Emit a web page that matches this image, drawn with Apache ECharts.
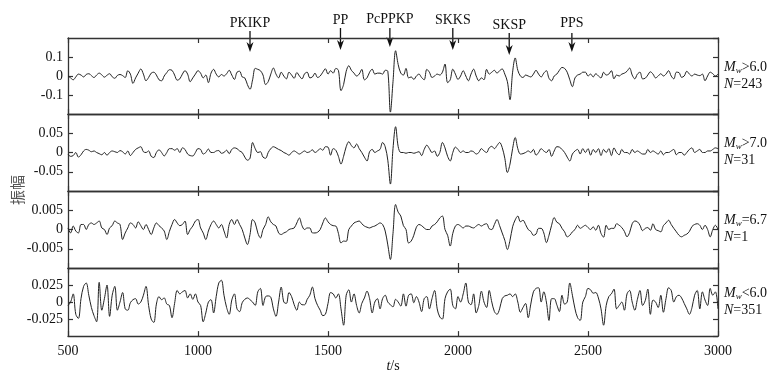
<!DOCTYPE html>
<html><head><meta charset="utf-8">
<script src="https://cdn.jsdelivr.net/npm/echarts@6/dist/echarts.min.js"></script>
<style>html,body{margin:0;padding:0;background:#fff}#c{width:776px;height:374px}</style>
</head><body><div id="c"></div>
<script>
// ---- data ----
const t0 = 500, dt = 10; // sampling of the traces (s)
const phaseNames = ['PKIKP', 'PP', 'PcPPKP', 'SKKS', 'SKSP', 'PPS'];
const phaseTimes = [1200, 1548, 1738, 1980, 2197, 2438];
const panelMag = ['>6.0', '>7.0', '=6.7', '<6.0'];
const panelN = ['243', '31', '1', '351'];
const yLimits = [0.2, 0.1, 0.01, 0.05];
const yIntervals = [0.1, 0.05, 0.005, 0.025];

const trace1 = [
0, -0.01, -0.02, -0.005, 0.01, 0.005, -0.005, 0.008, 0.012, 0.002,
-0.008, 0.005, 0.015, 0.006, -0.006, 0.004, 0.012, -0.004, -0.012, 0.003,
0.008, 0.002, -0.008, 0.028, 0.01, -0.039, -0.01, 0.015, 0.037, 0.01,
-0.025, -0.008, 0.015, 0.02, 0.005, -0.02, -0.025, 0.0, 0.018, 0.033,
0.03, 0.005, -0.022, -0.015, 0.01, 0.028, 0.01, -0.03, -0.01, 0.01,
0.028, 0.015, -0.01, 0.005, -0.035, 0.015, 0.035, 0.01, -0.005, 0.008,
0.0, 0.012, 0.03, 0.005, -0.018, 0.02, 0.025, -0.005, -0.01, -0.045,
-0.07, -0.02, 0.04, 0.035, 0.028, 0.005, -0.045, -0.03, 0.01, 0.042,
0.01, -0.01, 0.02, 0.0, -0.015, 0.02, 0.005, -0.012, 0.018, 0.0,
-0.015, 0.012, 0.02, -0.01, -0.005, 0.015, -0.008, 0.0, 0.02, 0.038,
0.01, 0.028, 0.015, 0.04, 0.03, -0.077, -0.045, 0.025, 0.054, 0.03,
0.015, 0.0, 0.01, 0.035, -0.02, -0.01, 0.02, 0.036, 0.01, 0.015,
0.015, 0.01, 0.03, 0.025, -0.19, -0.03, 0.133, 0.06, 0.015, 0.005,
0.04, -0.01, -0.005, -0.018, 0.0, 0.01, -0.008, -0.02, 0.035, 0.02,
-0.008, 0.0, 0.01, 0.005, 0.02, 0.063, -0.035, -0.02, 0.036, 0.01,
-0.018, 0.0, 0.028, 0.0, -0.025, 0.01, 0.036, 0.0, -0.025, -0.01,
-0.02, 0.035, 0.01, 0.02, 0.03, 0.015, 0.028, 0.037, 0.01, -0.03,
-0.125, 0.02, 0.095, 0.03, 0.0, -0.008, 0.005, 0.0, -0.005, 0.01,
0.03, 0.01, -0.005, 0.015, 0.028, -0.012, -0.025, 0.0, 0.01, 0.03,
0.045, 0.04, 0.02, -0.02, -0.056, -0.01, 0.005, 0.01, 0.02, 0.02,
0.0, 0.01, -0.005, 0.012, 0.0, -0.01, 0.02, 0.005, 0.01, 0.028,
-0.015, 0.005, 0.0, 0.01, 0.015, 0.025, 0.042, 0.005, -0.015, 0.01,
0.02, -0.015, -0.012, 0.005, 0.022, 0.01, -0.01, 0.0, 0.012, 0.0,
0.01, 0.028, 0.0, -0.015, 0.02, 0.018, -0.007, 0.0, 0.025, 0.01,
0.0, 0.01, 0.005, 0.002, 0.01, -0.025, 0.0, 0.02, 0.012, 0.0,
0.01];

const trace2 = [
-0.004, -0.01, -0.008, 0.0, -0.012, -0.006, 0.004, 0.008, 0.006, 0.002,
0.004, 0.0, -0.003, -0.006, 0.0, -0.007, 0.0, 0.004, 0.002, 0.0,
0.005, 0.002, -0.004, 0.004, -0.008, 0.0, 0.008, 0.012, 0.015, 0.002,
0.0, 0.004, -0.01, -0.013, 0.0, 0.007, 0.0, -0.009, 0.0, 0.01,
0.01, 0.006, 0.01, 0.0, 0.012, 0.008, -0.004, -0.008, -0.009, 0.0,
0.01, 0.008, -0.004, 0.0, 0.009, 0.0, 0.0, 0.004, 0.005, -0.002,
0.0, 0.006, -0.003, 0.008, 0.012, 0.01, 0.004, 0.0, -0.012, -0.02,
-0.015, 0.026, 0.01, 0.0, 0.002, -0.012, -0.015, 0.0, 0.01, 0.015,
0.012, 0.008, 0.005, 0.0, -0.003, -0.007, 0.0, 0.004, 0.0, -0.004,
0.0, 0.004, 0.0, 0.002, 0.007, 0.0, 0.004, 0.01, 0.006, 0.015,
0.014, -0.007, 0.01, 0.006, -0.01, -0.03, -0.01, 0.015, 0.028, 0.018,
0.012, 0.022, 0.01, 0.0, -0.012, -0.022, 0.002, 0.008, 0.0, 0.004,
0.008, 0.026, 0.015, -0.02, -0.082, 0.01, 0.067, 0.015, 0.0, 0.0,
-0.002, 0.0, 0.0, -0.002, 0.0, 0.002, -0.008, 0.008, 0.019, 0.01,
0.0, 0.004, -0.01, 0.0, 0.026, 0.012, -0.01, -0.022, 0.0, 0.014,
0.008, 0.0, 0.004, 0.0, 0.0, 0.004, 0.002, -0.004, 0.0, 0.01,
0.004, 0.0, 0.012, 0.016, 0.01, 0.018, 0.026, 0.013, -0.015, -0.052,
-0.03, 0.01, 0.039, 0.01, -0.004, -0.003, 0.0, 0.004, 0.0, 0.008,
-0.007, 0.0, 0.01, 0.004, 0.0, 0.008, -0.01, 0.004, 0.015, 0.014,
0.008, 0.0, -0.012, -0.022, -0.004, 0.004, 0.008, -0.004, 0.01, 0.0,
0.01, -0.007, 0.008, 0.0, 0.01, -0.008, 0.008, 0.0, 0.01, -0.008,
0.012, 0.0, -0.006, 0.008, 0.0, 0.0, -0.004, 0.008, 0.0, 0.004,
0.0, -0.004, -0.004, 0.008, 0.0, 0.004, 0.0, -0.004, 0.004, -0.006,
0.0, 0.0, 0.004, 0.008, -0.006, 0.0, 0.0, -0.007, 0.0, 0.008,
0.012, 0.0, 0.004, 0.008, 0.0, 0.0, 0.004, 0.004, 0.008, 0.012,
0.01];

const trace3 = [
0.0004, -0.0009, 0.0009, -0.0004, -0.0009, 0.0013, 0.0013, 0.0, 0.0013, 0.0017,
0.0013, 0.0017, 0.0022, 0.0004, 0.0, -0.0013, 0.0004, 0.001, 0.0022, 0.0017,
0.0013, -0.0026, -0.0009, 0.0004, 0.0017, 0.0013, 0.0004, 0.002, 0.001, 0.0,
0.0013, 0.0, -0.0013, 0.0004, 0.0017, 0.001, 0.0004, -0.0004, -0.0026, -0.0005,
0.0013, 0.0026, 0.0017, 0.001, 0.0013, 0.0022, -0.0013, 0.0, 0.0009, 0.0022,
0.0026, 0.0004, -0.0009, -0.0026, -0.0004, 0.0013, 0.0022, 0.0013, 0.0004, 0.0013,
-0.0004, -0.0022, 0.0013, 0.0026, 0.0013, 0.0026, 0.0013, 0.0, -0.0022, -0.0039,
-0.0013, 0.0026, 0.0017, -0.0009, -0.0022, 0.0, 0.0013, 0.0033, 0.002, 0.0013,
0.0009, -0.0009, -0.0013, -0.0009, -0.0006, 0.0, 0.0002, 0.0004, 0.0017, 0.003,
0.001, 0.0, 0.0004, 0.0004, -0.0009, -0.0009, -0.0007, 0.0, 0.0017, 0.003,
0.002, 0.0013, 0.001, 0.0009, -0.001, -0.0035, -0.003, -0.0031, 0.0, 0.0009,
0.0017, 0.002, 0.0022, 0.0015, 0.0009, 0.0006, 0.0004, 0.0007, 0.0009, 0.0013,
0.0017, 0.0013, -0.0004, -0.004, -0.0078, -0.001, 0.0065, 0.0045, 0.0035, 0.001,
0.0, -0.0035, -0.003, -0.0015, 0.0006, 0.0013, 0.001, 0.0004, 0.0, 0.0,
0.0009, 0.0013, 0.002, 0.003, 0.0035, 0.0, -0.0015, -0.0043, -0.001, 0.0009,
0.0013, 0.0009, 0.0004, 0.0009, 0.0009, 0.0006, 0.0004, 0.0009, 0.0013, 0.0009,
0.0013, 0.0015, 0.0002, 0.0, 0.0013, 0.0026, 0.001, -0.0009, -0.0028, -0.0052,
-0.0028, 0.0007, 0.0025, 0.0035, 0.002, 0.0024, 0.0013, 0.0, -0.0005, -0.0015,
-0.0012, 0.0003, 0.0003, -0.0009, -0.0034, -0.0015, 0.0011, 0.0031, 0.0019, 0.0015,
0.0003, -0.0006, -0.0019, -0.0015, -0.0006, 0.0, 0.0011, 0.0003, 0.0007, 0.0011,
0.0005, 0.0, 0.0007, -0.0002, 0.0011, -0.001, -0.002, 0.0011, 0.0, 0.0003,
0.0003, 0.0015, 0.0011, 0.0005, -0.0005, -0.0019, -0.0008, 0.0015, 0.0022, 0.002,
0.0011, -0.0003, 0.0003, 0.0005, -0.0002, 0.0015, 0.0, -0.0003, -0.0006, 0.001,
0.0017, 0.0024, 0.0013, 0.0003, -0.0006, -0.0015, -0.0019, -0.0015, -0.0012, -0.0005,
0.0008, 0.0013, 0.0015, 0.0011, 0.0, 0.0011, 0.0, -0.0019, 0.0, 0.0011,
0.0];

const trace4 = [
-0.005, 0.0, 0.012, -0.018, -0.024, 0.005, 0.023, 0.028, 0.01, -0.008,
-0.02, -0.029, 0.029, -0.012, 0.005, 0.025, -0.021, 0.01, 0.023, -0.012,
0.0, 0.014, -0.01, -0.012, -0.001, 0.0035, 0.005, -0.003, 0.0, 0.01,
0.023, -0.005, -0.025, -0.03, -0.003, 0.008, 0.0035, 0.006, -0.003, -0.005,
-0.023, -0.002, 0.017, 0.012, 0.015, 0.017, 0.006, 0.012, 0.004, 0.012,
0.0, -0.005, -0.029, -0.016, 0.0, 0.0035, -0.016, 0.008, 0.028, 0.032,
0.01, -0.008, -0.018, 0.003, 0.012, -0.01, -0.014, -0.001, 0.004, 0.006,
0.0035, 0.0, -0.005, 0.015, 0.02, -0.005, 0.008, 0.009, 0.007, -0.01,
-0.021, 0.0, 0.022, 0.0, -0.002, 0.014, 0.008, -0.004, -0.012, 0.0,
-0.004, -0.004, 0.004, 0.01, 0.022, 0.005, -0.005, -0.012, -0.02, -0.018,
-0.002, 0.014, 0.012, 0.006, 0.012, -0.01, -0.034, 0.01, 0.018, 0.0,
0.012, -0.005, -0.016, -0.002, 0.006, 0.016, 0.005, -0.016, 0.0, 0.005,
-0.01, 0.005, 0.01, 0.0, -0.004, -0.007, 0.004, 0.0, -0.006, 0.012,
-0.006, 0.01, 0.012, -0.001, 0.008, 0.0, -0.014, 0.005, 0.008, -0.01,
0.005, 0.017, -0.01, -0.022, -0.025, 0.005, 0.015, 0.019, -0.005, -0.01,
0.008, 0.0, 0.012, 0.028, 0.0, -0.004, 0.012, -0.016, -0.005, 0.016,
0.0, -0.008, 0.017, 0.0, -0.014, -0.018, -0.01, 0.005, 0.009, 0.01,
0.012, 0.008, 0.012, 0.0, -0.015, -0.008, -0.002, -0.023, -0.003, 0.015,
0.02, 0.021, 0.0, 0.015, 0.0, -0.027, 0.005, 0.005, -0.004, -0.014,
0.01, -0.003, 0.0, 0.028, 0.01, -0.01, -0.023, -0.027, 0.0, 0.008,
0.02, 0.018, 0.013, 0.014, 0.006, -0.01, -0.034, -0.005, 0.008, 0.012,
0.019, -0.01, -0.005, 0.0, -0.012, 0.012, 0.017, 0.0, -0.012, 0.004,
0.017, -0.005, 0.002, 0.019, -0.018, 0.003, 0.0, -0.008, 0.01, -0.015,
0.005, 0.021, 0.017, 0.0, 0.008, 0.01, 0.006, -0.002, -0.01, -0.018,
-0.008, 0.01, 0.017, -0.01, 0.015, 0.003, -0.005, 0.02, 0.01, 0.015,
-0.01];

const traces = [trace1, trace2, trace3, trace4];

// ---- layout / style ----
const FONT = '"Liberation Serif", "Times New Roman", serif';
const AX = '#333';
const gridTops = [38, 114, 191, 268];
const gridHeights = [76, 77, 77, 76];
const labelTopY = [23, 20, 19, 20, 25, 23];   // label centre y of phase names
const arrowTopY = [31, 28, 28, 28, 33, 33];
const arrowTipY = [52, 50, 47, 50, 55, 52];

const chart = echarts.init(document.getElementById('c'), null, {renderer: 'canvas'});

const grids = [], xAxes = [], yAxes = [], series = [];
for (let i = 0; i < 4; i++) {
  grids.push({left: 68, right: 58, top: gridTops[i], height: gridHeights[i], containLabel: false});
  const baseX = {
    type: 'value', gridIndex: i, min: 500, max: 3000, interval: 500,
    axisLine: {show: true, onZero: false, lineStyle: {color: AX, width: 1.3}},
    axisTick: {show: true, inside: true, length: 5, lineStyle: {color: AX, width: 1.2}},
    splitLine: {show: false}
  };
  xAxes.push(Object.assign({}, baseX, {
    position: 'bottom',
    axisLabel: {show: i === 3, fontFamily: FONT, fontSize: 14, color: '#111', margin: 8,
      formatter: v => String(v)},
    name: i === 3 ? '{it|t}/s' : '',
    nameLocation: 'middle', nameGap: 22,
    nameTextStyle: {fontFamily: FONT, fontSize: 14, color: '#111',
      rich: {it: {fontFamily: FONT, fontSize: 14, fontStyle: 'italic', color: '#111'}}}
  }));
  xAxes.push(Object.assign({}, baseX, {position: 'top', axisLabel: {show: false}}));
  const lim = yLimits[i];
  const baseY = {
    type: 'value', gridIndex: i, min: -lim, max: lim, interval: yIntervals[i],
    axisLine: {show: true, onZero: false, lineStyle: {color: AX, width: 1.3}},
    axisTick: {show: true, inside: true, length: 5, lineStyle: {color: AX, width: 1.2}},
    splitLine: {show: false}
  };
  yAxes.push(Object.assign({}, baseY, {
    position: 'left',
    axisLabel: {show: true, showMinLabel: false, showMaxLabel: false,
      fontFamily: FONT, fontSize: 14, color: '#111', margin: 5}
  }));
  yAxes.push(Object.assign({}, baseY, {position: 'right', axisLabel: {show: false}}));
  series.push({
    type: 'line', xAxisIndex: 2 * i, yAxisIndex: 2 * i,
    data: traces[i].map((v, k) => [t0 + k * dt, v]),
    showSymbol: false, symbol: 'none', smooth: 0.35,
    lineStyle: {color: '#222', width: 1}, silent: true, clip: true
  });
}

chart.setOption({
  animation: false,
  backgroundColor: '#fff',
  grid: grids, xAxis: xAxes, yAxis: yAxes, series: series
});

// ---- annotations positioned through the axes ----
const g = [];
phaseNames.forEach((name, k) => {
  const px = chart.convertToPixel({xAxisIndex: 0}, phaseTimes[k]);
  g.push({type: 'text', x: px, y: labelTopY[k], silent: true,
    style: {text: name, fill: '#111', font: '14px ' + FONT, align: 'center', verticalAlign: 'middle'}});
  g.push({type: 'line', silent: true,
    shape: {x1: px, y1: arrowTopY[k], x2: px, y2: arrowTipY[k] - 6},
    style: {stroke: '#111', lineWidth: 1.3}});
  g.push({type: 'polygon', silent: true,
    shape: {points: [[px - 3.5, arrowTipY[k] - 10], [px, arrowTipY[k] - 7], [px + 3.5, arrowTipY[k] - 10], [px, arrowTipY[k]]]},
    style: {fill: '#111'}});
});
for (let i = 0; i < 4; i++) {
  const cy = chart.convertToPixel({yAxisIndex: 2 * i}, 0);
  g.push({type: 'text', x: 724, y: cy - 9, silent: true,
    style: {text: '{m|M}{s|w}{n|' + panelMag[i] + '}', verticalAlign: 'middle', align: 'left',
      rich: {
        m: {fontFamily: FONT, fontSize: 14, fontStyle: 'italic', fill: '#111', lineHeight: 16},
        s: {fontFamily: FONT, fontSize: 9, fontStyle: 'italic', fill: '#111', verticalAlign: 'bottom', lineHeight: 9},
        n: {fontFamily: FONT, fontSize: 14, fill: '#111', lineHeight: 16}
      }}});
  g.push({type: 'text', x: 724, y: cy + 8, silent: true,
    style: {text: '{m|N}{n|=' + panelN[i] + '}', verticalAlign: 'middle', align: 'left',
      rich: {
        m: {fontFamily: FONT, fontSize: 14, fontStyle: 'italic', fill: '#111'},
        n: {fontFamily: FONT, fontSize: 14, fill: '#111'}
      }}});
}
g.push({type: 'text', x: 17, y: 190, rotation: Math.PI / 2, silent: true,
  style: {text: '振幅', fill: '#555', font: '15px "Noto Sans CJK SC"', align: 'center', verticalAlign: 'middle'}});
chart.setOption({graphic: g});
</script>
</body></html>
